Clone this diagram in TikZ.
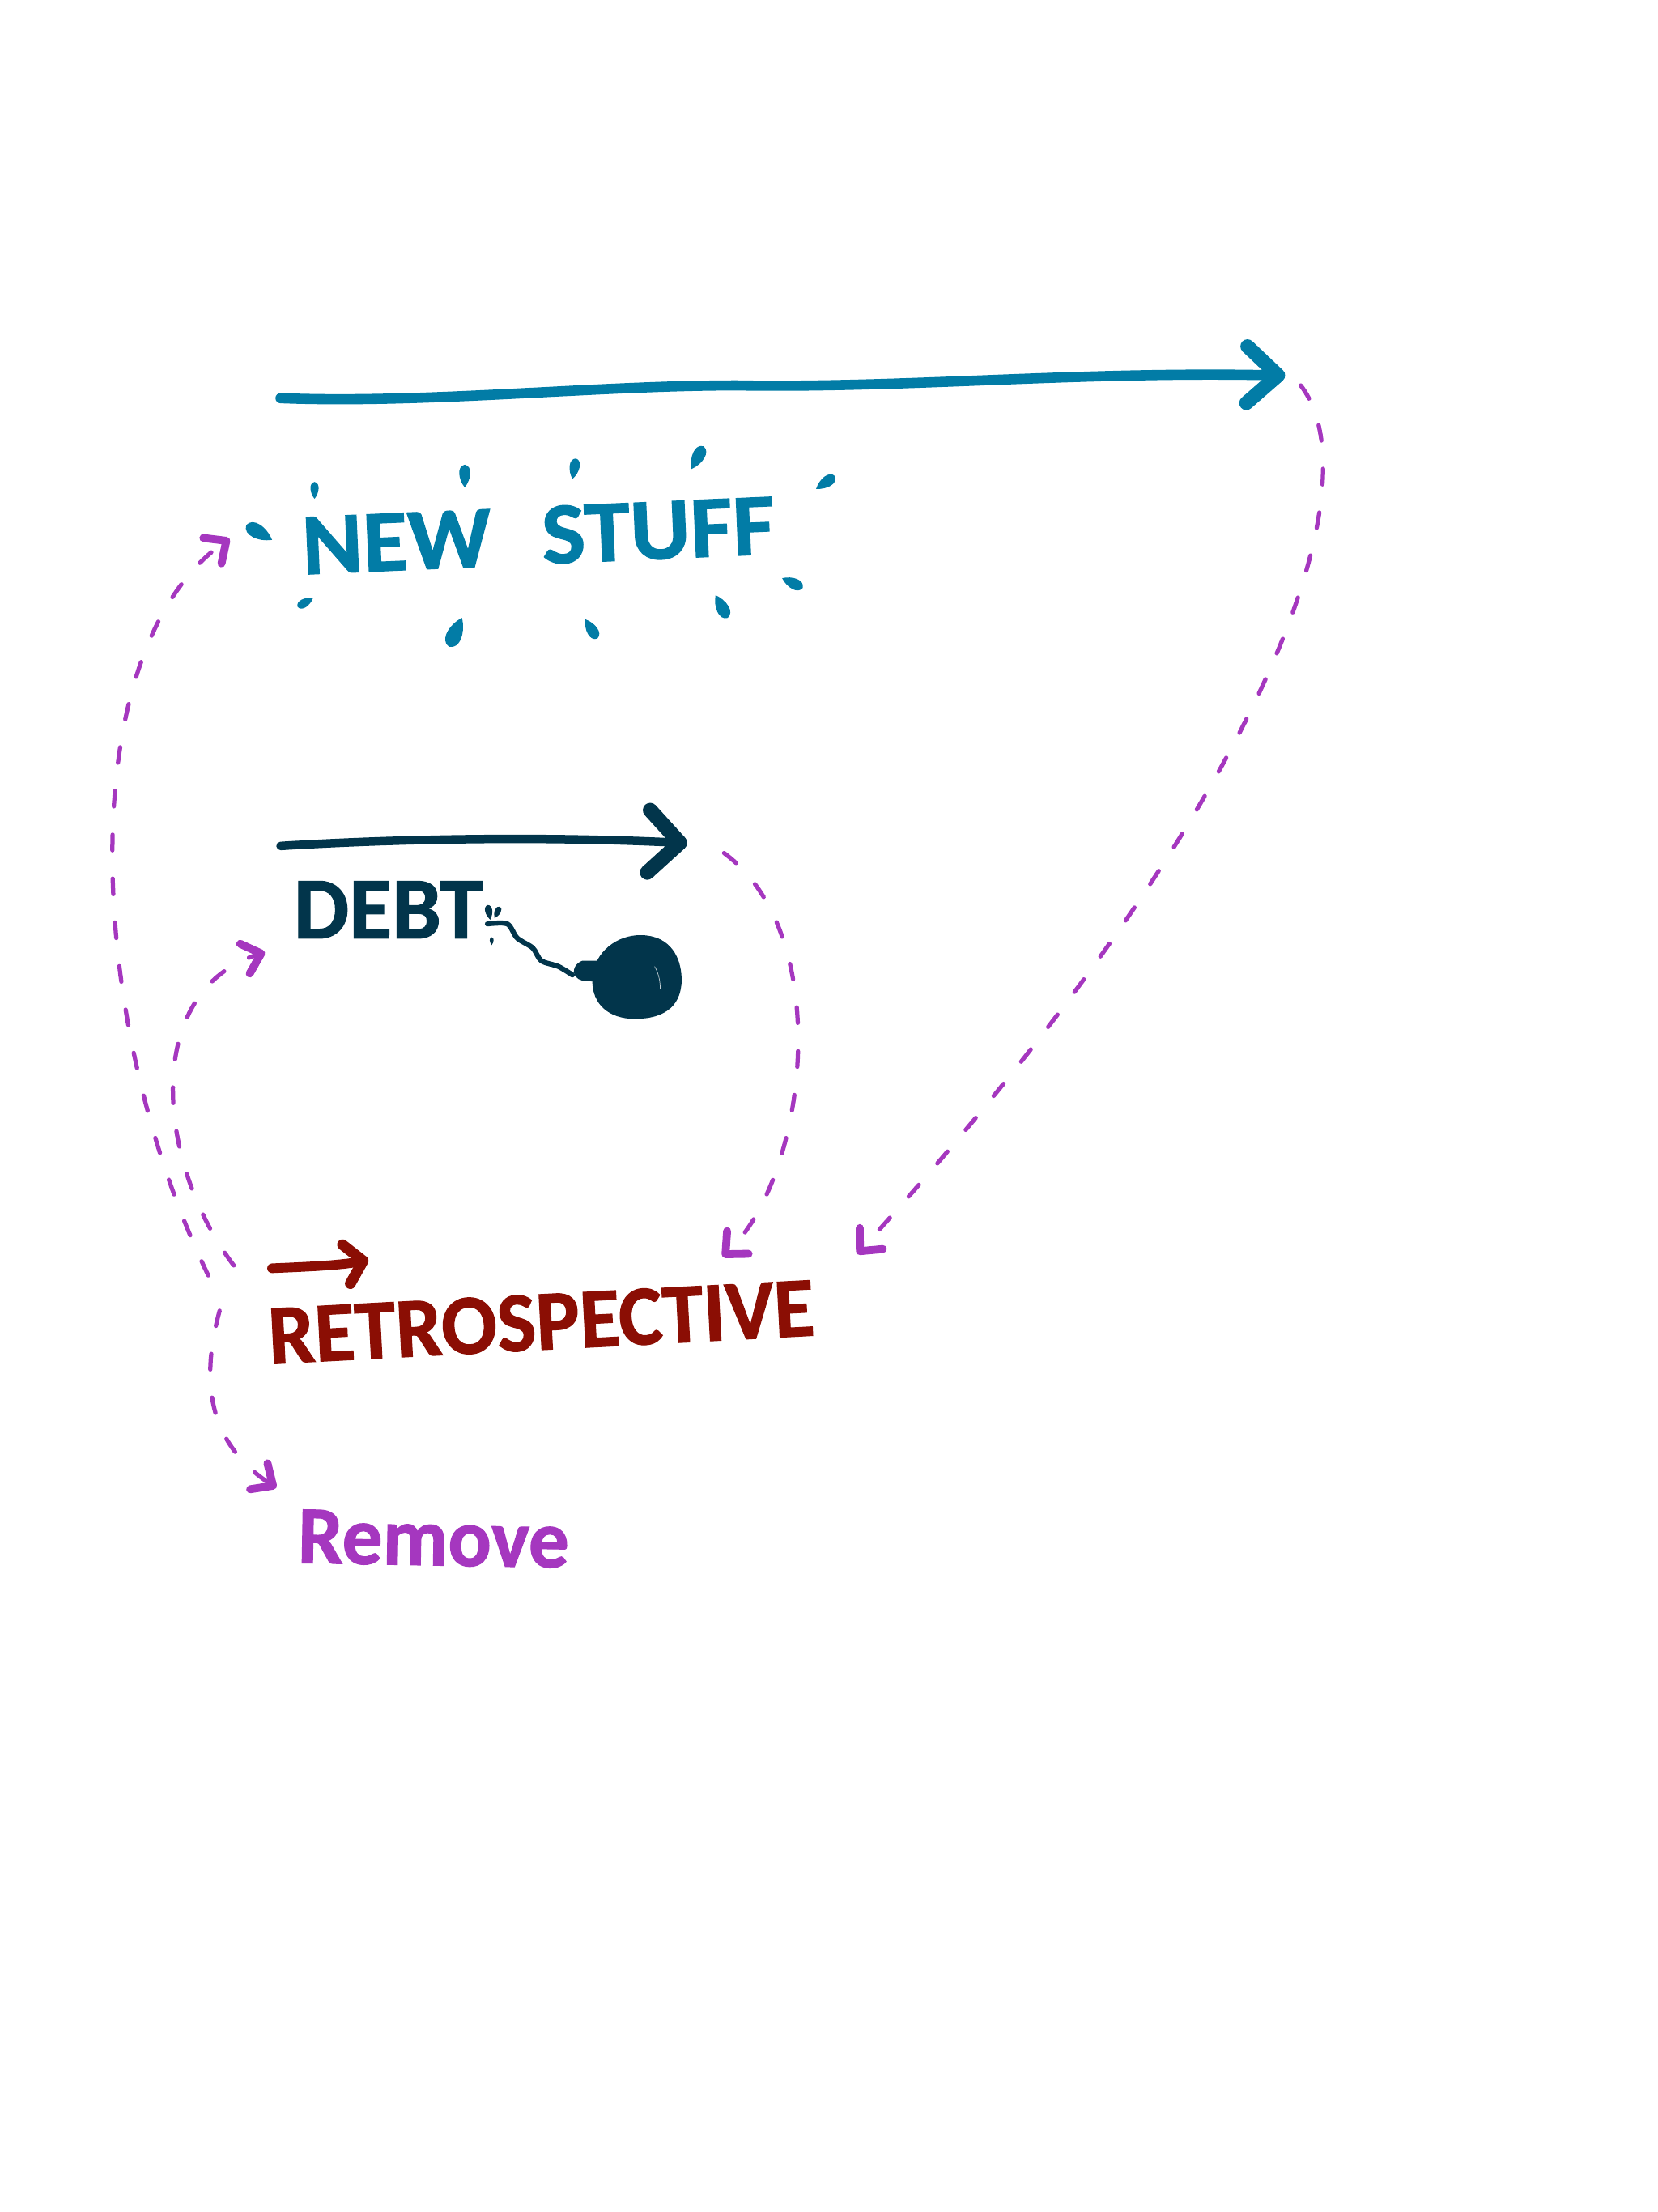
\documentclass[tikz,border=0pt]{standalone}
\usepackage{fontspec}
\setmainfont[BoldFeatures={FakeBold=1.2}]{Carlito}
\usetikzlibrary{arrows.meta}
\definecolor{newblue}{HTML}{027CA6}
\definecolor{debtblue}{HTML}{02354B}
\definecolor{retrored}{HTML}{8B0E04}
\definecolor{flowpurple}{HTML}{A537BF}
\tikzset{
  label/.style={inner sep=0pt,font=\bfseries\fontsize{31pt}{31pt}\selectfont,transform shape},
  flow/.style={draw=flowpurple,line width=1.5pt,line cap=round,dash pattern=on 5.5pt off 10pt,
    -{Straight Barb[round,length=6pt,width=11pt,line width=2.8pt]}},
  newline/.style={draw=newblue,line width=3.6pt,line cap=round,
    -{Straight Barb[round,length=11pt,width=20pt,line width=5pt]}},
  debtline/.style={draw=debtblue,line width=3pt,line cap=round,
    -{Straight Barb[round,length=11pt,width=22pt,line width=5.2pt]}},
  retroline/.style={draw=retrored,line width=3.4pt,line cap=round,
    -{Straight Barb[round,length=6pt,width=14pt,line width=3.8pt]}},
  drop/.pic={\fill (0,0) .. controls (-4,5) and (-5,13) .. (0,14) .. controls (5,13) and (4,5) .. (0,0);}
}
\begin{document}
\begin{tikzpicture}[x=.5pt,y=-.5pt]
\useasboundingbox (0,0) rectangle (1170,1561);

\node(newstuff) at (380,378) [label,rotate=2.5,xscale=1.05,text=newblue]{NEW\hspace{10pt} STUFF};
\node(debt) at (274,642) [label,text=debtblue]{DEBT};
\node(retro) at (382,933) [label,rotate=3,xscale=.97,font=\bfseries\fontsize{30pt}{30pt}\selectfont,text=retrored]{RETROSPECTIVE};
\node(remove) at (306,1086) [label,rotate=-1,xscale=.98,font=\bfseries\fontsize{29pt}{29pt}\selectfont,text=flowpurple]{Remove};

\coordinate(newstart) at (198,281);
\coordinate(newtip) at (907,265);
\coordinate(debtstart) at (198,597);
\coordinate(debttip) at (485,595);
\coordinate(retrostart) at (192,895);
\coordinate(retrotip) at (260,889);

\draw [newline] (newstart) .. controls (300,285) and (420,272) .. (520,272) .. controls (640,274) and (760,262) .. (newtip);
\draw [debtline] (debtstart) .. controls (280,592) and (380,590) .. (debttip);
\draw [retroline] (retrostart) .. controls (215,894) and (240,893) .. (retrotip);

\coordinate(newflow) at (918,272);
\coordinate(retroa) at (605,885);
\coordinate(debtflow) at (511,602);
\coordinate(retrob) at (510,887);
\coordinate(retroc) at (147,900);
\coordinate(newin) at (162,380);
\coordinate(retrod) at (165,893);
\coordinate(debtin) at (187,672);
\coordinate(retroe) at (155,925);
\coordinate(removein) at (195,1050);

\draw [flow] (newflow) .. controls (970,340) and (900,560) .. (retroa);
\draw [flow] (debtflow) .. controls (590,660) and (570,830) .. (retrob);
\draw [flow] (retroc) .. controls (60,720) and (50,460) .. (newin);
\draw [flow] (retrod) .. controls (110,820) and (100,700) .. (debtin);
\draw [flow] (retroe) .. controls (140,980) and (150,1020) .. (removein);

\foreach \px/\py/\turn/\len in {222/352/180/.85,328/344/180/1.15,404/338/170/1.05,488/331/152/1.3,
  576/345/124/1.15,552/408/65/1.15,505/420/28/1.3,413/437/32/1.15,326/436/-24/1.6,221/422/-60/.9,192/381/240/1.5}
  \pic[newblue,rotate=\turn,scale=\len] at (\px,\py) {drop};

\begin{scope}[shift={(-2,-3)}]
\fill[debtblue] (452,663) .. controls (472,662) and (482,675) .. (483,692) .. controls (484,712) and (472,722) .. (450,722) .. controls (432,722) and (420,712) .. (420,695) .. controls (420,678) and (434,664) .. (452,663);
\fill[debtblue] (425,681) -- (413,681) .. controls (405,684) and (405,693) .. (413,695) -- (425,696) -- cycle;
\draw[debtblue,line width=1.8pt,line cap=round] plot[smooth] coordinates {(346,655) (360,655) (367,665) (378,672) (384,681) (396,685) (406,691)};
\draw[white!75!debtblue,line width=.2pt] (464,685) .. controls (467,690) and (468,696) .. (468,701);
\pic[debtblue,rotate=190,scale=.75] at (348,652) {drop};
\pic[debtblue,rotate=155,scale=.65] at (351,651) {drop};
\pic[debtblue,rotate=180,scale=.4] at (349,670) {drop};
\end{scope}
\end{tikzpicture}
\end{document}
